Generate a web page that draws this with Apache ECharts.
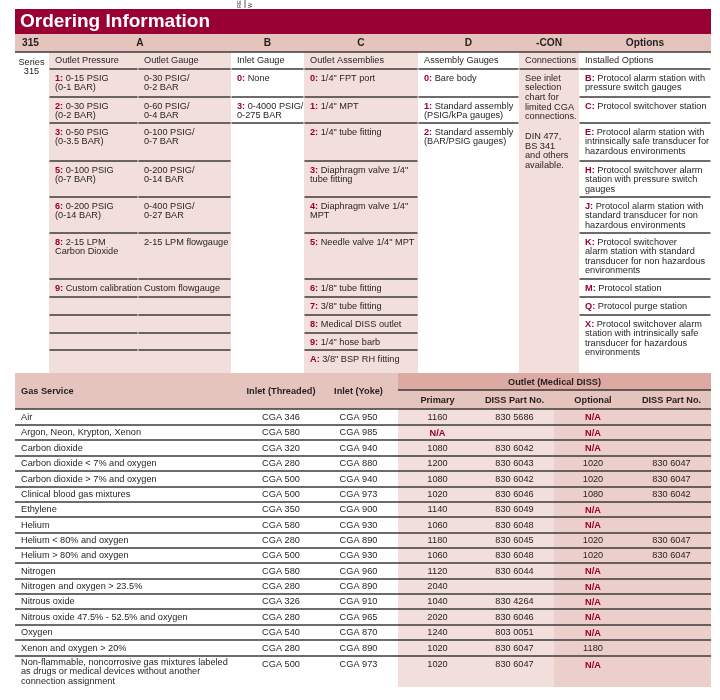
<!DOCTYPE html>
<html>
<head>
<meta charset="utf-8">
<title>Ordering Information</title>
<script src="https://cdn.jsdelivr.net/npm/echarts@6/dist/echarts.min.js"></script>
<style>
html, body { margin: 0; padding: 0; background: #fff; }
#main { width: 720px; height: 700px; }
</style>
</head>
<body>
<div id="main"></div>
<script>
// ---- table content ----
var titleText = 'Ordering Information'
var groupHeads = ['315', 'A', 'B', 'C', 'D', '-CON', 'Options']
var seriesLabel = ['Series', '315']
var columnHeads = ['Outlet Pressure', 'Outlet Gauge', 'Inlet Gauge', 'Outlet Assemblies', 'Assembly Gauges', 'Connections', 'Installed Options']

var outletPressure = [
  ['1', '0-15 PSIG\n(0-1 BAR)'],
  ['2', '0-30 PSIG\n(0-2 BAR)'],
  ['3', '0-50 PSIG\n(0-3.5 BAR)'],
  ['5', '0-100 PSIG\n(0-7 BAR)'],
  ['6', '0-200 PSIG\n(0-14 BAR)'],
  ['8', '2-15 LPM\nCarbon Dioxide'],
  ['9', 'Custom calibration']
]
var outletGauge = ['0-30 PSIG/\n0-2 BAR', '0-60 PSIG/\n0-4 BAR', '0-100 PSIG/\n0-7 BAR', '0-200 PSIG/\n0-14 BAR', '0-400 PSIG/\n0-27 BAR', '2-15 LPM flowgauge', 'Custom flowgauge']
var inletGauge = [['0', 'None'], ['3', '0-4000 PSIG/\n0-275 BAR']]
var outletAssemblies = [
  ['0', '1/4" FPT port'],
  ['1', '1/4" MPT'],
  ['2', '1/4" tube fitting'],
  ['3', 'Diaphragm valve 1/4"\ntube fitting'],
  ['4', 'Diaphragm valve 1/4"\nMPT'],
  ['5', 'Needle valve 1/4" MPT'],
  ['6', '1/8" tube fitting'],
  ['7', '3/8" tube fitting'],
  ['8', 'Medical DISS outlet'],
  ['9', '1/4" hose barb'],
  ['A', '3/8" BSP RH fitting']
]
var assemblyGauges = [['0', 'Bare body'], ['1', 'Standard assembly\n(PSIG/kPa gauges)'], ['2', 'Standard assembly\n(BAR/PSIG gauges)']]
var connectionsNote = 'See inlet\nselection\nchart for\nlimited CGA\nconnections.\n\nDIN 477,\nBS 341\nand others\navailable.'
var installedOptions = [
  ['B', 'Protocol alarm station with\npressure switch gauges'],
  ['C', 'Protocol switchover station'],
  ['E', 'Protocol alarm station with\nintrinsically safe transducer for\nhazardous environments'],
  ['H', 'Protocol switchover alarm\nstation with pressure switch\ngauges'],
  ['J', 'Protocol alarm station with\nstandard transducer for non\nhazardous environments'],
  ['K', 'Protocol switchover\nalarm station with standard\ntransducer for non hazardous\nenvironments'],
  ['M', 'Protocol station'],
  ['Q', 'Protocol purge station'],
  ['X', 'Protocol switchover alarm\nstation with intrinsically safe\ntransducer for hazardous\nenvironments']
]

var gasHeads = ['Gas Service', 'Inlet (Threaded)', 'Inlet (Yoke)']
var outletHead = 'Outlet (Medical DISS)'
var outletSubHeads = ['Primary', 'DISS Part No.', 'Optional', 'DISS Part No.']
var gasService = ['Air', 'Argon, Neon, Krypton, Xenon', 'Carbon dioxide', 'Carbon dioxide < 7% and oxygen', 'Carbon dioxide > 7% and oxygen',
  'Clinical blood gas mixtures', 'Ethylene', 'Helium', 'Helium < 80% and oxygen', 'Helium > 80% and oxygen', 'Nitrogen',
  'Nitrogen and oxygen > 23.5%', 'Nitrous oxide', 'Nitrous oxide 47.5% - 52.5% and oxygen', 'Oxygen', 'Xenon and oxygen > 20%',
  'Non-flammable, noncorrosive gas mixtures labeled\nas drugs or medical devices without another\nconnection assignment']
var inletThreaded = ['CGA 346', 'CGA 580', 'CGA 320', 'CGA 280', 'CGA 500', 'CGA 500', 'CGA 350', 'CGA 580', 'CGA 280', 'CGA 500', 'CGA 580', 'CGA 280', 'CGA 326', 'CGA 280', 'CGA 540', 'CGA 280', 'CGA 500']
var inletYoke = ['CGA 950', 'CGA 985', 'CGA 940', 'CGA 880', 'CGA 940', 'CGA 973', 'CGA 900', 'CGA 930', 'CGA 890', 'CGA 930', 'CGA 960', 'CGA 890', 'CGA 910', 'CGA 965', 'CGA 870', 'CGA 890', 'CGA 973']
var primaryOutlet = ['1160', 'N/A', '1080', '1200', '1080', '1020', '1140', '1060', '1180', '1060', '1120', '2040', '1040', '2020', '1240', '1020', '1020']
var primaryPart = ['830 5686', '', '830 6042', '830 6043', '830 6042', '830 6046', '830 6049', '830 6048', '830 6045', '830 6048', '830 6044', '', '830 4264', '830 6046', '803 0051', '830 6047', '830 6047']
var optionalOutlet = ['N/A', 'N/A', 'N/A', '1020', '1020', '1080', 'N/A', 'N/A', '1020', '1020', 'N/A', 'N/A', 'N/A', 'N/A', 'N/A', '1180', 'N/A']
var optionalPart = ['', '', '', '830 6047', '830 6047', '830 6042', '', '', '830 6047', '830 6047', '', '', '', '', '', '', '']

// ---- layout & styles ----
var FONT = '"Liberation Sans", Arial, Helvetica, sans-serif'
var RED = '#990033'
var TEXT = '#231f20'
var LINE = '#3d3a3b'
var PINK_HEAD = '#e6c4be'
var PINK_BODY = '#f2dedb'
var PINK_DARK = '#dca9a3'
var PINK_MID = '#ecceca'
var RICH = { k: { fill: RED, fontWeight: 'bold', fontSize: 9.2, fontFamily: FONT, lineHeight: 9.5 } }

var topColX = [49, 138, 231, 304, 418, 519, 579, 711]
var topColFill = [PINK_BODY, PINK_BODY, null, PINK_BODY, null, PINK_BODY, null]
var groupSpan = [[15, 49], [49, 231], [231, 304], [304, 418], [418, 519], [519, 579], [579, 711]]
var topRowY = [69, 97, 123, 161, 197, 233, 279, 297, 315, 333, 350, 373]
var topLineCount = [11, 11, 3, 11, 3, 1, 9]

var botCenters = [281, 358.5, 437.5, 514.5, 593, 671.5]
var botRowY = [409, 425, 440, 456, 471, 487, 502, 517, 533, 548, 563, 579, 594, 609, 625, 640, 656, 687]

function coded(e) { return '{k|' + e[0] + ':} ' + e[1] }

var topColumns = [
  outletPressure.map(coded), outletGauge, inletGauge.map(coded), outletAssemblies.map(coded),
  assemblyGauges.map(coded), [connectionsNote], installedOptions.map(coded)
]
var bodyColumns = [inletThreaded, inletYoke, primaryOutlet, primaryPart, optionalOutlet, optionalPart]

// ---- marks list: every cell, rule and label of the table ----
var marks = []
function rect(x0, y0, x1, y1, fill) { marks.push({ kind: 'rect', x0: x0, y0: y0, x1: x1, y1: y1, fill: fill }) }
function hline(x0, x1, y, w) { marks.push({ kind: 'line', x0: x0, y0: y, x1: x1, y1: y, w: w }) }
function label(x, y, text, opt) { var m = { kind: 'text', x0: x, y0: y, text: text }; for (var k in opt) m[k] = opt[k]; marks.push(m) }

// title + group header
rect(15, 9, 711, 34, RED)
rect(15, 34, 711, 52, PINK_HEAD)
topColFill.forEach(function (f, c) { if (f) rect(topColX[c], 52, topColX[c + 1], 373, f) })
// lower table backgrounds
rect(15, 373, 711, 409, PINK_HEAD)
rect(398, 373, 711, 390, PINK_DARK)
rect(398, 409, 554, 687, PINK_BODY)
rect(554, 409, 711, 687, PINK_MID)

// rules
hline(15, 711, 52)
topLineCount.forEach(function (n, c) {
  for (var k = 0; k < n; k++) hline(topColX[c] + 0.5, topColX[c + 1] - 0.5, topRowY[k])
})
hline(398, 711, 390)
for (var r = 0; r < gasService.length; r++) hline(15, 711, botRowY[r])

// texts
label(20, 22, titleText, { size: 19, bold: true, color: '#fff', valign: 'middle' })
groupHeads.forEach(function (h, i) {
  var x = i === 0 ? 22 : (groupSpan[i][0] + groupSpan[i][1]) / 2
  label(x, 43.5, h, { size: 10.2, bold: true, align: i === 0 ? 'left' : 'center', valign: 'middle' })
})
label(31.5, 66.5, seriesLabel.join('\n'), { align: 'center', valign: 'middle', lh: 9 })
columnHeads.forEach(function (h, c) { label(topColX[c] + 6, 60.8, h, { valign: 'middle' }) })
topColumns.forEach(function (list, c) {
  list.forEach(function (t, r) { label(topColX[c] + 6, topRowY[r] + 4.3, t, { lh: c === 5 ? 9.7 : 9.5 }) })
})

label(21, 391, gasHeads[0], { bold: true, valign: 'middle' })
label(botCenters[0], 391, gasHeads[1], { bold: true, align: 'center', valign: 'middle' })
label(botCenters[1], 391, gasHeads[2], { bold: true, align: 'center', valign: 'middle' })
label(554.5, 382, outletHead, { bold: true, align: 'center', valign: 'middle' })
outletSubHeads.forEach(function (h, i) { label(botCenters[i + 2], 400.5, h, { bold: true, align: 'center', valign: 'middle' }) })

gasService.forEach(function (g, r) {
  var last = r === gasService.length - 1
  var mid = last ? botRowY[r] + 8.8 : (botRowY[r] + botRowY[r + 1]) / 2
  if (last) label(21, botRowY[r] + 1.5, g, { lh: 9.5 })
  else label(21, mid, g, { valign: 'middle' })
  bodyColumns.forEach(function (col, c) {
    var v = col[r]
    if (!v) return
    var na = v === 'N/A'
    label(botCenters[c], mid + (na ? 0.8 : 0), v, { align: 'center', valign: 'middle', bold: na, color: na ? RED : TEXT })
  })
})

function renderItem(params, api) {
  var m = marks[params.dataIndex]
  var p0 = api.coord([m.x0, m.y0])
  if (m.kind === 'rect') {
    var p1 = api.coord([m.x1, m.y1])
    return { type: 'rect', z2: 0, shape: { x: p0[0], y: p0[1], width: p1[0] - p0[0], height: p1[1] - p0[1] }, style: { fill: m.fill } }
  }
  if (m.kind === 'line') {
    var q1 = api.coord([m.x1, m.y1])
    return { type: 'line', z2: 1, shape: { x1: p0[0], y1: p0[1], x2: q1[0], y2: q1[1] }, style: { stroke: LINE, lineWidth: m.w || 1.4 } }
  }
  return {
    type: 'text', z2: 2, x: p0[0], y: p0[1],
    style: {
      text: m.text, fill: m.color || TEXT, fontSize: m.size || 9.2, fontWeight: m.bold ? 'bold' : 'normal',
      fontFamily: FONT, align: m.align || 'left', verticalAlign: m.valign || 'top', lineHeight: m.lh || 9.5, rich: RICH
    }
  }
}

var chart = echarts.init(document.getElementById('main'))
chart.setOption({
  animation: false,
  grid: { left: 0, right: 0, top: 0, bottom: 0 },
  xAxis: { type: 'value', min: 0, max: 720, show: false },
  yAxis: { type: 'value', min: 0, max: 700, inverse: true, show: false },
  graphic: [
    // clipped text fragment above the title bar
    { type: 'line', shape: { x1: 245, y1: 0, x2: 245, y2: 8 }, style: { stroke: '#333', lineWidth: 0.8 } },
    { type: 'text', x: 242, y: 8, rotation: Math.PI / 2, style: { text: 'RE', fontSize: 5.5, fontFamily: FONT, fill: '#333', verticalAlign: 'bottom' } },
    { type: 'text', x: 253, y: 8, rotation: Math.PI / 2, style: { text: 'W', fontSize: 5.5, fontFamily: FONT, fill: '#333', verticalAlign: 'bottom' } }
  ],
  series: [{
    type: 'custom',
    coordinateSystem: 'cartesian2d',
    silent: true,
    clip: false,
    renderItem: renderItem,
    encode: { x: 0, y: 1 },
    data: marks.map(function (m) { return [m.x0, m.y0] })
  }]
})
</script>
</body>
</html>
